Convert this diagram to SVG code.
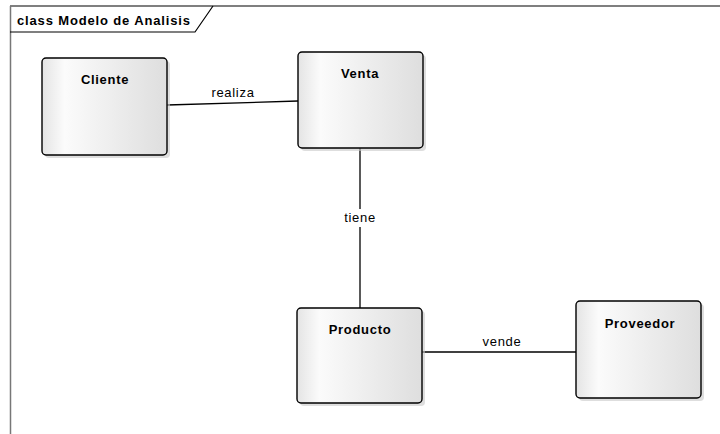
<svg xmlns="http://www.w3.org/2000/svg" width="720" height="434" viewBox="0 0 720 434">
  <style>
    .frame { fill: none; stroke: #000; stroke-width: 1.2; }
    .frame-side { fill: none; stroke: #777; stroke-width: 1.5; }
    .title { font-family: "Liberation Sans", Arial, sans-serif; font-size: 13px; font-weight: bold; letter-spacing: 0.85px; fill: #000; }
    .box { fill: url(#boxFill); stroke: #000; stroke-width: 1.4; }
    .shadow { fill: #c8c8c8; opacity: 0.6; }
    .name { font-family: "Liberation Sans", Arial, sans-serif; font-size: 13px; font-weight: bold; letter-spacing: 0.7px; fill: #000; text-anchor: middle; }
    .link { fill: none; stroke: #000; stroke-width: 1.3; }
    .label { font-family: "Liberation Sans", Arial, sans-serif; font-size: 13px; letter-spacing: 0.7px; fill: #000; text-anchor: middle; }
  </style>
  <defs>
    <linearGradient id="boxFill" x1="0" y1="0" x2="1" y2="0">
      <stop offset="0" stop-color="#e4e4e4"/>
      <stop offset="0.18" stop-color="#fbfbfb"/>
      <stop offset="1" stop-color="#dedede"/>
    </linearGradient>
  </defs>
  <rect width="720" height="434" fill="#fff"/>

  <!-- diagram frame with title tab -->
  <g id="frame">
    <line class="frame" x1="10" y1="6" x2="720" y2="6"/>
    <line class="frame-side" x1="10.5" y1="6" x2="10.5" y2="434"/>
    <path class="frame" d="M10 32 H195 L213 6"/>
    <text class="title" x="17" y="25">class Modelo de Analisis</text>
  </g>

  <g id="connectors">
    <line class="link" x1="167" y1="105" x2="298" y2="101"/>
    <text class="label" x="233" y="97">realiza</text>
    <line class="link" x1="360" y1="148" x2="360" y2="209"/>
    <line class="link" x1="360" y1="227" x2="360" y2="308"/>
    <text class="label" x="360" y="222">tiene</text>
    <line class="link" x1="422" y1="352" x2="576" y2="352"/>
    <text class="label" x="502" y="346">vende</text>
  </g>

  <g id="cliente">
    <rect class="shadow" x="45" y="61" width="125" height="97" rx="4"/>
    <rect class="box" x="42" y="58" width="125" height="97" rx="4"/>
    <text class="name" x="105" y="84">Cliente</text>
  </g>

  <g id="venta">
    <rect class="shadow" x="301" y="55" width="125" height="96" rx="4"/>
    <rect class="box" x="298" y="52" width="125" height="96" rx="4"/>
    <text class="name" x="360" y="78">Venta</text>
  </g>

  <g id="producto">
    <rect class="shadow" x="300" y="311" width="125" height="95" rx="4"/>
    <rect class="box" x="297" y="308" width="125" height="95" rx="4"/>
    <text class="name" x="360" y="334">Producto</text>
  </g>

  <g id="proveedor">
    <rect class="shadow" x="579" y="304" width="125" height="97" rx="4"/>
    <rect class="box" x="576" y="301" width="125" height="97" rx="4"/>
    <text class="name" x="640" y="328">Proveedor</text>
  </g>
</svg>
